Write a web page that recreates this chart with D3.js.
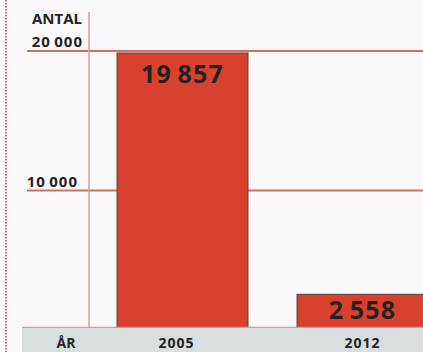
<!DOCTYPE html>
<html><head><meta charset="utf-8">
<script src="https://cdn.jsdelivr.net/npm/d3@7"></script>
<style>
html,body{margin:0;padding:0;background:#faf8fa;overflow:hidden;}
svg{display:block;}
text{font-family:"Open Sans",Lato,sans-serif;font-weight:700;fill:#232323;}
</style></head>
<body>
<svg id="c" width="423" height="352"></svg>
<script>
const years = ["2005", "2012"];
const values = [19857, 2558];
const valueLabels = ["19\u2009857", "2\u2009558"];
const tickValues = [10000, 20000];
const tickLabels = ["10\u2009000", "20\u2009000"];
const yTitle = "ANTAL";
const xTitle = "ÅR";

const svg = d3.select("#c");
const W = 423, H = 352;
const y = d3.scaleLinear().domain([0, 20000]).range([330, 51]);
const x = d3.scaleBand().domain(years).range([117, 428]).paddingInner(49 / 180).paddingOuter(0);

// dotted left border
svg.append("line").attr("x1", 6).attr("x2", 6).attr("y1", 0).attr("y2", H)
  .attr("stroke", "#d86a6a").attr("stroke-width", 2).attr("stroke-dasharray", "1.5,1.5");

// gridlines
svg.selectAll(".grid").data(tickValues).join("line")
  .attr("x1", 27).attr("x2", W)
  .attr("y1", d => y(d)).attr("y2", d => y(d))
  .attr("stroke", "#d2705e").attr("stroke-width", 1.8);

// vertical axis
svg.append("line").attr("x1", 89).attr("x2", 89).attr("y1", 12).attr("y2", 328)
  .attr("stroke", "#dc9a9a").attr("stroke-width", 1.5);

// bars
svg.selectAll(".bar").data(values).join("rect")
  .attr("x", (d, i) => x(years[i]))
  .attr("width", x.bandwidth())
  .attr("y", d => y(d))
  .attr("height", d => y(0) - y(d))
  .attr("fill", "#d9412f")
  .attr("stroke", "#5e4038").attr("stroke-width", 1);

// bar value labels
svg.selectAll(".vl").data(values).join("text")
  .attr("x", (d, i) => x(years[i]) + x.bandwidth() / 2)
  .attr("y", d => Math.min(y(d) + 30, (y(d) + 328) / 2 + 8))
  .attr("text-anchor", "middle")
  .attr("font-size", 25)
  .attr("letter-spacing", 1.2)
  .attr("fill", "#232323")
  .text((d, i) => valueLabels[i]);

// bottom grey band
svg.append("line").attr("x1", 22).attr("x2", W).attr("y1", 327.5).attr("y2", 327.5)
  .attr("stroke", "#d99a92").attr("stroke-width", 1.5);
svg.append("rect").attr("x", 22).attr("y", 328).attr("width", W - 22).attr("height", H - 328)
  .attr("fill", "#d8dedf");

// x labels
svg.selectAll(".xl").data(years).join("text")
  .attr("x", d => x(d) + x.bandwidth() / 2 - (d === "2005" ? 6 : 0))
  .attr("y", 348)
  .attr("text-anchor", "middle")
  .attr("font-size", 14)
  .attr("letter-spacing", 1)
  .text(d => d);
svg.append("text").attr("x", 66).attr("y", 348).attr("text-anchor", "middle")
  .attr("font-size", 14).text(xTitle);

// y tick labels
svg.selectAll(".yl").data(tickValues).join("text")
  .attr("x", (d) => d === 20000 ? 83 : 78)
  .attr("y", d => y(d) - 4)
  .attr("text-anchor", "end")
  .attr("font-size", 15)
  .attr("letter-spacing", 1)
  .text((d, i) => tickLabels[i]);
svg.append("text").attr("x", 82).attr("y", 24).attr("text-anchor", "end")
  .attr("font-size", 15).text(yTitle);
</script>
</body></html>
